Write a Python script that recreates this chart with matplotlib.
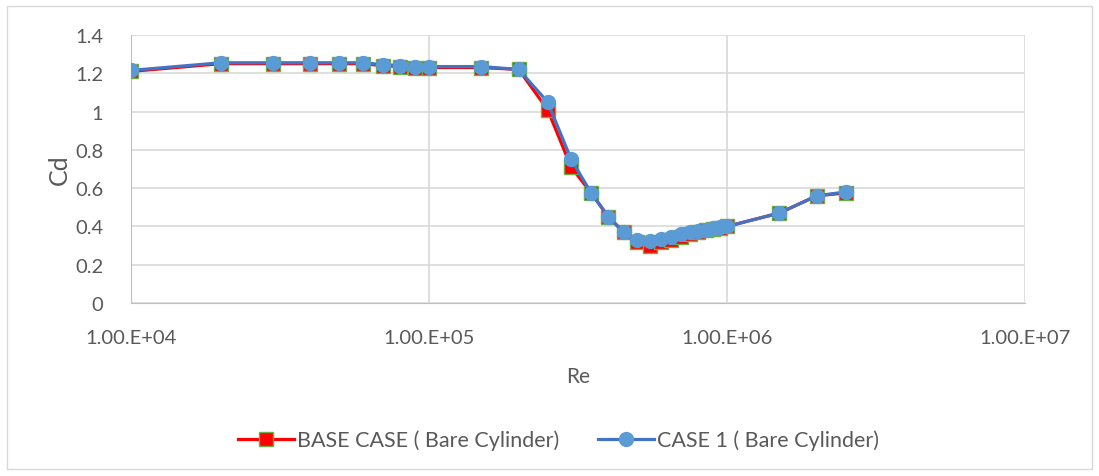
import numpy as np
import matplotlib.pyplot as plt
from matplotlib.patches import Rectangle
from matplotlib.ticker import FixedLocator, NullLocator

plt.rcParams['font.family'] = ['Lato', 'DejaVu Sans']

re_vals = [1e4, 2e4, 3e4, 4e4, 5e4, 6e4, 7e4, 8e4, 9e4, 1e5, 1.5e5, 2e5, 2.5e5,
           3e5, 3.5e5, 4e5, 4.5e5, 5e5, 5.5e5, 6e5, 6.5e5, 7e5, 7.5e5, 8e5,
           8.5e5, 9e5, 9.5e5, 1e6, 1.5e6, 2e6, 2.5e6]
cd_base = [1.21, 1.25, 1.25, 1.25, 1.25, 1.25, 1.24, 1.235, 1.23, 1.23, 1.23, 1.22, 1.01,
           0.71, 0.575, 0.45, 0.37, 0.32, 0.30, 0.32, 0.33, 0.345, 0.36, 0.37,
           0.38, 0.385, 0.39, 0.40, 0.47, 0.56, 0.575]
cd_case1 = [1.215, 1.255, 1.255, 1.255, 1.255, 1.255, 1.245, 1.24, 1.235, 1.235, 1.235, 1.22, 1.05,
            0.75, 0.575, 0.45, 0.37, 0.33, 0.325, 0.335, 0.345, 0.36, 0.37, 0.375,
            0.38, 0.39, 0.395, 0.40, 0.47, 0.56, 0.58]
x_ticks = [1e4, 1e5, 1e6, 1e7]
x_tick_labels = ['1.00.E+04', '1.00.E+05', '1.00.E+06', '1.00.E+07']
y_ticks = [0, 0.2, 0.4, 0.6, 0.8, 1, 1.2, 1.4]
y_tick_labels = ['0', '0.2', '0.4', '0.6', '0.8', '1', '1.2', '1.4']

txt = '#595959'
grid = '#D9D9D9'

fig = plt.figure(figsize=(10.99, 4.77), dpi=100)
ax = fig.add_axes([131 / 1099, 1 - 304 / 477, (1025 - 131) / 1099, (304 - 36) / 477])

ax.plot(re_vals, cd_base, color='#FF0000', lw=2.3, marker='s', markersize=10,
        markerfacecolor='#FF0000', markeredgecolor='#70AD47', markeredgewidth=1.0,
        label='BASE CASE ( Bare Cylinder)', zorder=3)
ax.plot(re_vals, cd_case1, color='#4472C4', lw=2.3, marker='o', markersize=10,
        markerfacecolor='#5B9BD5', markeredgecolor='#5B9BD5',
        label='CASE 1 ( Bare Cylinder)', zorder=4)

ax.set_xscale('log')
ax.set_xlim(1e4, 1e7)
ax.set_ylim(0, 1.4)
ax.xaxis.set_major_locator(FixedLocator(x_ticks))
ax.xaxis.set_minor_locator(NullLocator())
ax.set_xticklabels(x_tick_labels)
ax.set_yticks(y_ticks)
ax.set_yticklabels(y_tick_labels)
ax.tick_params(axis='both', length=0, labelsize=14.5, colors=txt)
ax.tick_params(axis='x', pad=19)
ax.tick_params(axis='y', pad=20)
ax.grid(True, color=grid, lw=1.2)
ax.set_axisbelow(True)
for side in ['top', 'right']:
    ax.spines[side].set_visible(False)
ax.spines['left'].set_color('#BFBFBF')
ax.spines['bottom'].set_color('#BFBFBF')

ax.set_xlabel('Re', fontsize=15, color=txt, labelpad=14)
ax.set_ylabel('Cd', fontsize=18, color=txt, labelpad=3)

fig.legend(loc='center', bbox_to_anchor=(0.508, 1 - 441 / 477), ncol=2,
           frameon=False, fontsize=15.5, labelcolor=txt, handlelength=2.6,
           columnspacing=1.8, handletextpad=0.15)

fig.patches.append(Rectangle((7 / 1099, 1 - 470 / 477), 1085 / 1099, 463 / 477,
                             transform=fig.transFigure, fill=False,
                             edgecolor='#D9D9D9', lw=1))

fig.savefig('out.png', dpi=100)
